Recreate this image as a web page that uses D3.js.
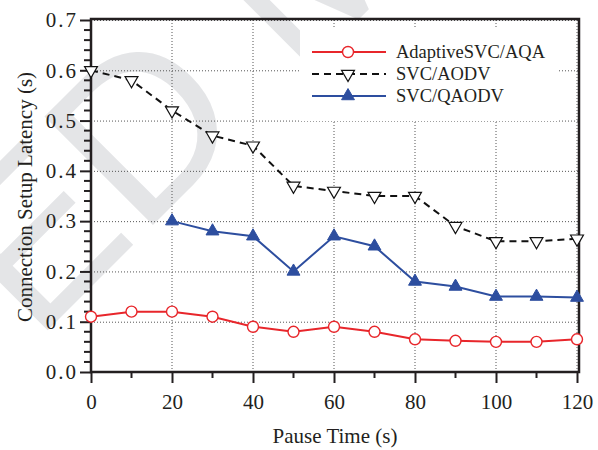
<html>

<head>
  <title>latency</title>
  <script src="https://d3js.org/d3.v7.min.js"></script>
  <style>
    body {
      margin: 0;
      background: #fff;
    }

    text {
      font-family: "Liberation Serif", "Times New Roman", serif;
      fill: #231f20;
    }
  </style>
</head>

<body>
  <div id="chart"></div>

  <script>
    // data
    var pauseTimes = [0, 10, 20, 30, 40, 50, 60, 70, 80, 90, 100, 110, 120];
    var aqa = [0.11, 0.12, 0.12, 0.11, 0.09, 0.08, 0.09, 0.08, 0.065, 0.062, 0.06, 0.06, 0.065];
    var aodv = [0.60, 0.58, 0.52, 0.47, 0.45, 0.37, 0.36, 0.35, 0.35, 0.29, 0.26, 0.26, 0.265];
    var qaodvTimes = [20, 30, 40, 50, 60, 70, 80, 90, 100, 110, 120];
    var qaodv = [0.30, 0.28, 0.27, 0.20, 0.27, 0.25, 0.18, 0.17, 0.15, 0.15, 0.148];

    var xTicks = [0, 20, 40, 60, 80, 100, 120];
    var yTicks = [0, 0.1, 0.2, 0.3, 0.4, 0.5, 0.6, 0.7];
    var seriesNames = ["AdaptiveSVC/AQA", "SVC/AODV", "SVC/QAODV"];

    var W = 598, H = 450;
    var pLeft = 91, pRight = 577, pTop = 20, pBottom = 372;
    var ink = "#231f20";
    var red = "#e8262b", blue = "#2d4e9f";

    var x = d3.scaleLinear().domain([0, 120]).range([pLeft, pRight]);
    var y = d3.scaleLinear().domain([0, 0.7]).range([pBottom, pTop]);

    var svg = d3.select("#chart").append("svg")
      .attr("width", W)
      .attr("height", H);

    // faint watermark behind the plot
    var wm = svg.append("text")
      .attr("transform", "translate(140,238) rotate(-45)")
      .style("font-family", "'Liberation Sans', Arial, sans-serif")
      .style("font-size", "223px")
      .style("fill", "#e4e5e7")
      .text("ACCEPTED MANUSCRIPT");
    wm.attr("x", -wm.node().getSubStringLength(0, 7));

    // grid
    var grid = svg.append("g")
      .attr("stroke", "#555")
      .attr("stroke-width", 1)
      .attr("stroke-dasharray", "1,2");
    grid.selectAll(".gx").data(xTicks.slice(1)).enter().append("line")
      .attr("x1", function (d) { return x(d); })
      .attr("x2", function (d) { return x(d); })
      .attr("y1", pTop).attr("y2", pBottom);
    grid.selectAll(".gy").data(yTicks.slice(1)).enter().append("line")
      .attr("y1", function (d) { return y(d) + 0.5; })
      .attr("y2", function (d) { return y(d) + 0.5; })
      .attr("x1", pLeft).attr("x2", pRight + 2);

    // legend background hides the grid behind it
    var lg = svg.append("g");
    lg.append("rect")
      .attr("x", 300).attr("y", 28)
      .attr("width", 258).attr("height", 93)
      .attr("fill", "#fff");

    // axes
    var xAxis = d3.axisBottom(x)
      .tickValues(xTicks)
      .tickSize(11)
      .tickPadding(11)
      .tickFormat(d3.format("d"));
    var gx = svg.append("g")
      .attr("transform", "translate(0," + pBottom + ")")
      .call(xAxis);

    var yAxis = d3.axisLeft(y)
      .tickValues(yTicks)
      .tickSize(11)
      .tickPadding(2)
      .tickFormat(d3.format(".1f"));
    var gy = svg.append("g")
      .attr("transform", "translate(" + pLeft + ",0)")
      .call(yAxis);

    // minor ticks
    var xMinor = d3.range(10, 120, 20);
    gx.selectAll(".minor").data(xMinor).enter().append("line")
      .attr("class", "minor")
      .attr("x1", function (d) { return x(d); })
      .attr("x2", function (d) { return x(d); })
      .attr("y1", 0).attr("y2", 6);

    var yMinor = d3.range(1, 35).filter(function (i) { return i % 5 != 0; }).map(function (i) { return i * 0.02; });
    gy.selectAll(".minor").data(yMinor).enter().append("line")
      .attr("class", "minor")
      .attr("y1", function (d) { return y(d); })
      .attr("y2", function (d) { return y(d); })
      .attr("x1", 0).attr("x2", -7);

    [gx, gy].forEach(function (g) {
      g.select(".domain").remove();
      g.selectAll("line").attr("stroke", ink).attr("stroke-width", 2);
      g.selectAll("text")
        .style("font-size", "21px")
        .attr("fill", ink);
    });
    gy.selectAll("text").style("letter-spacing", "2px");

    // frame
    svg.append("rect")
      .attr("x", pLeft).attr("y", pTop - 1)
      .attr("width", pRight + 2 - pLeft).attr("height", pBottom - pTop + 1)
      .attr("fill", "none")
      .attr("stroke", ink)
      .attr("stroke-width", 2.5);

    // axis titles
    svg.append("text")
      .attr("transform", "translate(32,197) rotate(-90)")
      .attr("text-anchor", "middle")
      .style("font-size", "21px")
      .text("Connection Setup Latency (s)");

    svg.append("text")
      .attr("x", 335).attr("y", 443)
      .attr("text-anchor", "middle")
      .style("font-size", "21px")
      .text("Pause Time (s)");

    // lines
    var line = d3.line()
      .x(function (d) { return x(d[0]); })
      .y(function (d) { return y(d[1]); });

    var aqaPts = d3.zip(pauseTimes, aqa);
    var aodvPts = d3.zip(pauseTimes, aodv);
    var qaodvPts = d3.zip(qaodvTimes, qaodv);

    var tri = d3.symbol().type(d3.symbolTriangle).size(72);

    svg.append("path").datum(aqaPts)
      .attr("d", line)
      .attr("fill", "none").attr("stroke", red).attr("stroke-width", 2);

    svg.append("path").datum(aodvPts)
      .attr("d", line)
      .attr("fill", "none").attr("stroke", "#111").attr("stroke-width", 2)
      .attr("stroke-dasharray", "7,5");

    svg.append("path").datum(qaodvPts)
      .attr("d", line)
      .attr("fill", "none").attr("stroke", blue).attr("stroke-width", 2);

    svg.selectAll(".m1").data(aqaPts).enter().append("circle")
      .attr("cx", function (d) { return x(d[0]); })
      .attr("cy", function (d) { return y(d[1]); })
      .attr("r", 5.5)
      .attr("fill", "#fff").attr("stroke", red).attr("stroke-width", 1.4);

    svg.selectAll(".m2").data(aodvPts).enter().append("path")
      .attr("d", tri)
      .attr("transform", function (d) { return "translate(" + x(d[0]) + "," + y(d[1]) + ") rotate(180)"; })
      .attr("fill", "#fff").attr("stroke", "#111").attr("stroke-width", 1.2);

    svg.selectAll(".m3").data(qaodvPts).enter().append("path")
      .attr("d", tri)
      .attr("transform", function (d) { return "translate(" + x(d[0]) + "," + y(d[1]) + ")"; })
      .attr("fill", blue).attr("stroke", blue).attr("stroke-width", 1);

    // legend
    var rows = [52, 74, 96];
    seriesNames.forEach(function (name, i) {
      var ry = rows[i];
      var l = lg.append("line")
        .attr("x1", 312).attr("x2", 386)
        .attr("y1", ry).attr("y2", ry)
        .attr("stroke-width", 2);
      if (i == 0) {
        l.attr("stroke", red);
        lg.append("circle").attr("cx", 348).attr("cy", ry).attr("r", 5.5)
          .attr("fill", "#fff").attr("stroke", red).attr("stroke-width", 1.4);
      } else if (i == 1) {
        l.attr("stroke", "#111").attr("stroke-dasharray", "7,5");
        lg.append("path").attr("d", tri)
          .attr("transform", "translate(348," + ry + ") rotate(180)")
          .attr("fill", "#fff").attr("stroke", "#111").attr("stroke-width", 1.2);
      } else {
        l.attr("stroke", blue);
        lg.append("path").attr("d", tri)
          .attr("transform", "translate(348," + ry + ")")
          .attr("fill", blue).attr("stroke", blue).attr("stroke-width", 1);
      }
      lg.append("text")
        .attr("x", 396).attr("y", ry + 6)
        .style("font-size", "18.5px")
        .text(name);
    });
  </script>
</body>

</html>
